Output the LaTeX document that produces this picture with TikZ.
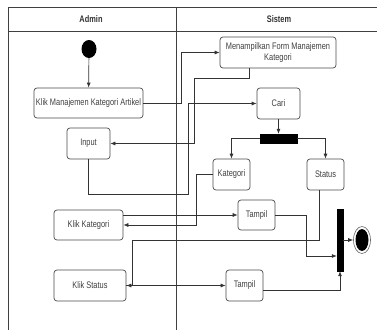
\documentclass[tikz,border=0pt]{standalone}
\usepackage{fontspec}
\setmainfont{Liberation Sans}
\newfontfamily\nf{Liberation Sans}[FakeStretch=0.78]
\usetikzlibrary{arrows.meta,calc,shapes.geometric}
\begin{document}
\begin{tikzpicture}[x=1pt,y=-1pt,
  lane/.style={draw=black!75,line width=0.8pt},
  act/.style={draw=black!70,line width=0.7pt,rounded corners=3pt,fill=white,inner sep=1pt,align=center,font=\nf\fontsize{9.5}{10.5}\selectfont,text=black!75},
  bar/.style={fill=black,draw=black,inner sep=0pt},
  conn/.style={draw=black!80,line width=0.7pt,-{Latex[length=5pt,width=4pt]}},
  hdr/.style={font=\nf\bfseries\fontsize{9.5}{11}\selectfont,text=black!80}
]
\useasboundingbox (0,0) rectangle (377,329);
\clip (0,0) rectangle (377,329);
\fill[white] (0,0) rectangle (377,329);
\draw[lane] (8,7) rectangle (390,340);
\draw[lane] (8,31) -- (390,31);
\draw[lane] (176,7) -- (176,340);
\node[hdr] (hA) at (91,19) {Admin};
\node[hdr] (hS) at (279,19) {Sistem};

\node[ellipse,fill=black,minimum width=15pt,minimum height=18pt,inner sep=0pt] (start) at (89,49) {};
\node[act,minimum width=109pt,minimum height=30pt] (klikmk) at (88.5,103) {Klik Manajemen Kategori Artikel};
\node[act,minimum width=116pt,minimum height=31pt] (form) at (278,52.5) {Menampilkan Form Manajemen\\Kategori};
\node[act,minimum width=43pt,minimum height=31pt] (cari) at (278.5,103.5) {Cari};
\node[act,minimum width=43pt,minimum height=31pt] (input) at (88.5,143.5) {Input};
\node[bar,minimum width=37pt,minimum height=9pt] (fork) at (278.5,138.5) {};
\node[act,minimum width=37pt,minimum height=31pt] (kat) at (231.5,174.5) {Kategori};
\node[act,minimum width=37pt,minimum height=31pt] (stat) at (325.5,174.5) {Status};
\node[act,minimum width=69pt,minimum height=30pt] (klikkat) at (88.5,225) {Klik Kategori};
\node[act,minimum width=37pt,minimum height=30pt] (t1) at (256.5,215) {Tampil};
\node[bar,minimum width=6pt,minimum height=62pt] (join) at (340,240) {};
\node[ellipse,draw=black!60,line width=0.6pt,minimum width=17pt,minimum height=27pt,inner sep=0pt] (end) at (362,240) {};
\node[ellipse,fill=black,minimum width=13pt,minimum height=22pt,inner sep=0pt] (endin) at (end.center) {};
\node[act,minimum width=72pt,minimum height=31pt] (klikstat) at (90,285.5) {Klik Status};
\node[act,minimum width=37pt,minimum height=31pt] (t2) at (244.5,285.5) {Tampil};

\draw[conn] (start) -- (klikmk);
\draw[conn] (klikmk.east) -- (181,103) |- (form.west);
\draw[conn] ($(form.south)+(-29,0)$) |- (194,78) |- (input.east);
\draw[conn] (input.south) |- (188,194) |- (cari.west);
\draw[conn] (cari) -- (fork);
\draw[conn] (fork.west) -| (kat.north);
\draw[conn] (fork.east) -| (stat.north);
\draw[conn] (kat.west) -- (196,174.5) |- (klikkat.east);
\draw[conn] (klikkat.east |- t1.west) -- (t1.west);
\draw[conn] (t1.east) -- (306,215) |- ($(join.west)+(0,16)$);
\draw[conn] ($(stat.south)+(-6.5,0)$) |- (132,240) |- (klikstat.east);
\draw[conn] (klikstat.east) -- (t2.west);
\draw[conn] ($(t2.east)+(0,4.5)$) -| (join.south);
\draw[conn] (join.east) -- (end.west);
\end{tikzpicture}
\end{document}
